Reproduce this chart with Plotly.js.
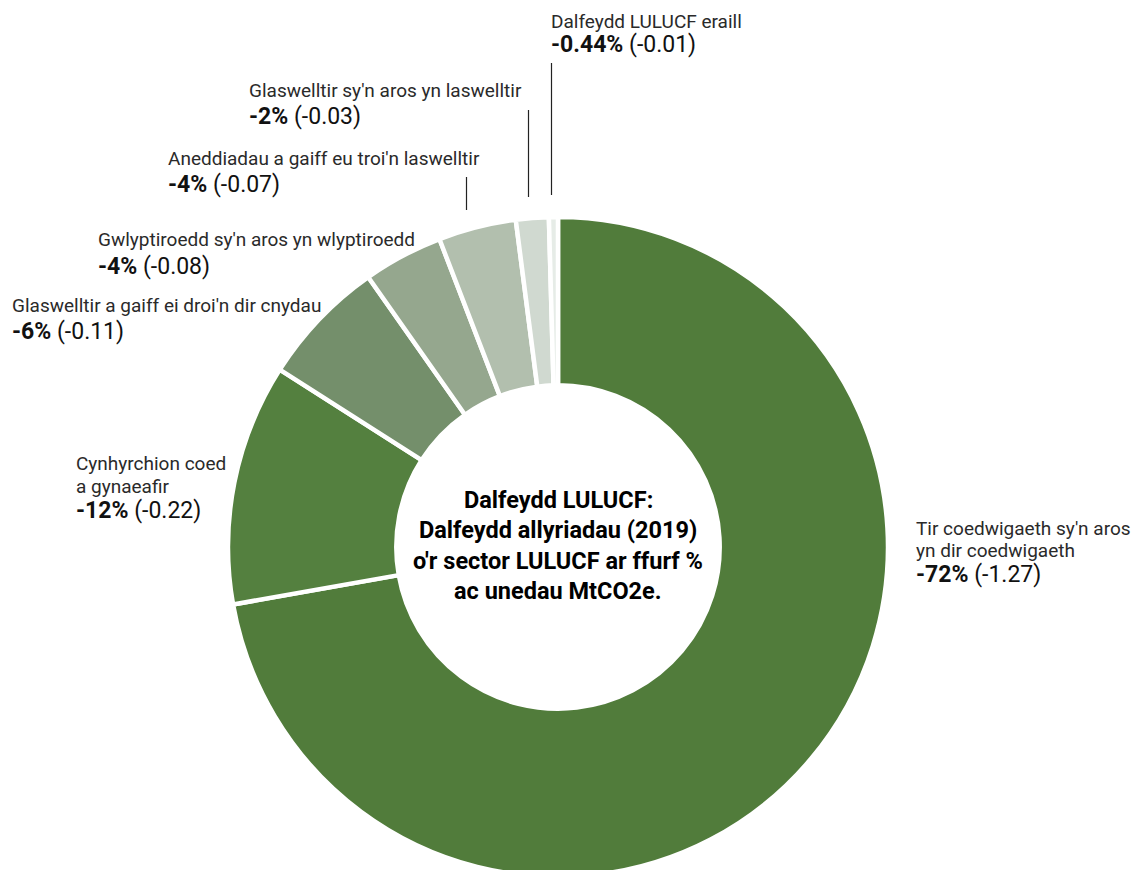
<!DOCTYPE html>
<html>
<head>
<meta charset="utf-8">
<script src="https://cdn.plot.ly/plotly-3.0.1.min.js"></script>
<style>html,body{margin:0;padding:0;overflow:hidden;background:#fff}#chart{width:1132px;height:880px}</style>
</head>
<body>
<div id="chart"></div>
<script>
// ---- data ----
const categories = [
  "Tir coedwigaeth sy'n aros yn dir coedwigaeth",
  "Cynhyrchion coed a gynaeafir",
  "Glaswelltir a gaiff ei droi'n dir cnydau",
  "Gwlyptiroedd sy'n aros yn wlyptiroedd",
  "Aneddiadau a gaiff eu troi'n laswelltir",
  "Glaswelltir sy'n aros yn laswelltir",
  "Dalfeydd LULUCF eraill"
];
const nameLines = [
  ["Tir coedwigaeth sy'n aros", "yn dir coedwigaeth"],
  ["Cynhyrchion coed", "a gynaeafir"],
  ["Glaswelltir a gaiff ei droi'n dir cnydau"],
  ["Gwlyptiroedd sy'n aros yn wlyptiroedd"],
  ["Aneddiadau a gaiff eu troi'n laswelltir"],
  ["Glaswelltir sy'n aros yn laswelltir"],
  ["Dalfeydd LULUCF eraill"]
];
const shareValues = [72.1, 11.8, 6.2, 3.9, 3.8, 1.6, 0.44];   // % share (slice sizes)
const pctLabels = ["-72%", "-12%", "-6%", "-4%", "-4%", "-2%", "-0.44%"];
const mtco2eLabels = ["(-1.27)", "(-0.22)", "(-0.11)", "(-0.08)", "(-0.07)", "(-0.03)", "(-0.01)"];
const centerLines = ["Dalfeydd LULUCF:", "Dalfeydd allyriadau (2019)", "o'r sector LULUCF ar ffurf %", "ac unedau MtCO2e."];

// ---- styling / layout ----
const W = 1132, H = 880;
const colors = ["#517c3b", "#54803f", "#748f6b", "#95a78e", "#b2bfae", "#d0d9d0", "#e6ece7"];
const px = x => x / W;
const py = y => 1 - y / H;

// label anchor positions (left x, centre y of each text line, value line y)
const labelPos = [
  {x: 914, y: [528, 550], v: 574},
  {x: 74,  y: [463, 486], v: 510},
  {x: 10,  y: [306], v: 332},
  {x: 96,  y: [240], v: 266},
  {x: 166, y: [158], v: 184},
  {x: 247, y: [90],  v: 116},
  {x: 549, y: [21],  v: 44}
];
const leaders = [
  {i: 4, x: 466.5, y0: 177, y1: 210},
  {i: 5, x: 528.5, y0: 110, y1: 197},
  {i: 6, x: 551.5, y0: 63,  y1: 195}
];

const labelFont = "Roboto, 'Liberation Sans', Arial, sans-serif";
const annotations = [];
categories.forEach((c, i) => {
  const p = labelPos[i];
  nameLines[i].forEach((ln, k) => {
    annotations.push({xref: 'paper', yref: 'paper', x: px(p.x), y: py(p.y[k]), xanchor: 'left', yanchor: 'middle',
      text: ln, showarrow: false, font: {family: labelFont, size: 19, color: '#2a2a2a'}});
  });
  annotations.push({xref: 'paper', yref: 'paper', x: px(p.x), y: py(p.v), xanchor: 'left', yanchor: 'middle',
    text: '<b>' + pctLabels[i] + '</b> ' + mtco2eLabels[i], showarrow: false,
    font: {family: labelFont, size: 23, color: '#111'}});
});
const centerY = [500, 530, 561, 591];
centerLines.forEach((ln, k) => {
  annotations.push({xref: 'paper', yref: 'paper', x: px(558), y: py(centerY[k]), xanchor: 'center', yanchor: 'middle',
    text: '<b>' + ln + '</b>', showarrow: false, font: {family: labelFont, size: 23.5, color: '#000'}});
});

const shapes = leaders.map(l => ({type: 'line', xref: 'paper', yref: 'paper',
  x0: px(l.x), x1: px(l.x), y0: py(l.y0), y1: py(l.y1), line: {color: '#222', width: 1.2}}));

const trace = {
  type: 'pie',
  labels: categories,
  values: shareValues,
  sort: false,
  direction: 'clockwise',
  rotation: 0,
  hole: 0.49,
  textinfo: 'none',
  hoverinfo: 'label+percent',
  marker: {colors: colors, line: {color: '#ffffff', width: 4.5}},
  domain: {x: [px(228), px(888)], y: [py(877), py(217)]},
  showlegend: false
};

const layout = {
  width: W, height: H,
  margin: {l: 0, r: 0, t: 0, b: 0},
  paper_bgcolor: '#fff',
  showlegend: false,
  annotations: annotations,
  shapes: shapes
};
Plotly.newPlot('chart', [trace], layout, {displayModeBar: false, staticPlot: true});
</script>
</body>
</html>
